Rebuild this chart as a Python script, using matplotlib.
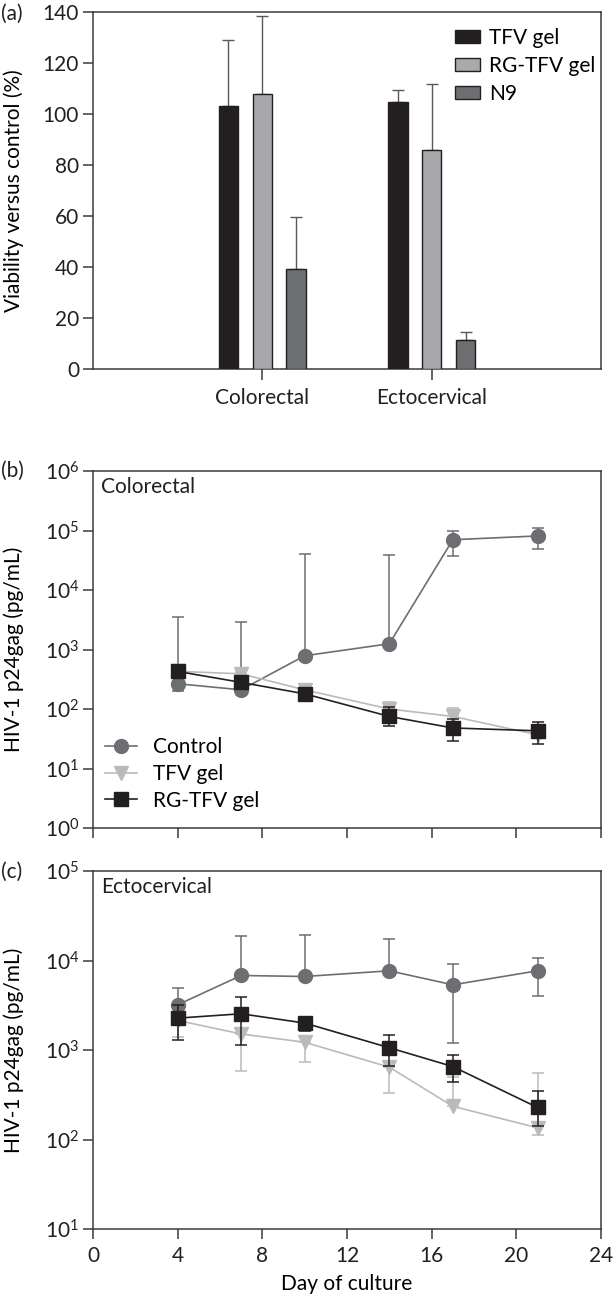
import matplotlib
matplotlib.use("Agg")
import matplotlib.pyplot as plt
import numpy as np
from matplotlib.ticker import LogLocator, NullLocator

plt.rcParams['font.family'] = ['Lato', 'DejaVu Sans']
plt.rcParams['mathtext.default'] = 'regular'
plt.rcParams['font.size'] = 15

# ---------------- data ----------------
# Panel (a)
tissues = ["Colorectal", "Ectocervical"]
bar_series = ["TFV gel", "RG-TFV gel", "N9"]
viab_tfv = [103.3, 104.7]
viab_tfv_top = [128.9, 109.3]
viab_rg = [108.0, 85.8]
viab_rg_top = [138.4, 111.7]
viab_n9 = [39.4, 11.5]
viab_n9_top = [59.8, 14.4]

# Panels (b) and (c)
days = [4, 7, 10, 14, 17, 21]
line_series = ["Control", "TFV gel", "RG-TFV gel"]

b_control = [266, 210, 785, 1250, 70000, 81000]
b_control_hi = [3460, 2850, 41000, 39000, 100000, 111000]
b_control_lo = [198, 210, 785, 1250, 37000, 48000]
b_tfv = [430, 390, 210, 100, 75, 37]
b_tfv_hi = [430, 420, 256, 131, 104, 40]
b_tfv_lo = [430, 390, 210, 100, 75, 33]
b_rg = [428, 280, 180, 75, 48, 43]
b_rg_hi = [428, 280, 180, 106, 68, 60]
b_rg_lo = [428, 280, 180, 52, 28.6, 26]

c_control = [3200, 6800, 6630, 7670, 5350, 7670]
c_control_hi = [4910, 18600, 19050, 17500, 9100, 10540]
c_control_lo = [3200, 6800, 6630, 7670, 1190, 4060]
c_tfv = [2140, 1510, 1220, 643, 235, 135]
c_tfv_hi = [2140, 1510, 1220, 643, 500, 555]
c_tfv_lo = [1380, 590, 737, 329, 235, 111]
c_rg = [2270, 2540, 2000, 1060, 653, 228]
c_rg_hi = [3170, 3960, 2000, 1480, 884, 352]
c_rg_lo = [1310, 1140, 1610, 660, 444, 143]

day_ticks = [0, 4, 8, 12, 16, 20, 24]

# ---------------- styles ----------------
col_black = "#231f20"
col_light = "#b8babc"
col_dark = "#6d6e71"
col_spine = "#3a3a3a"
FS = 15

W, H = 614, 1299
fig = plt.figure(figsize=(W / 100, H / 100), dpi=100)
AX_L, AX_R = 93, 601

def ax_rect(top, bottom, left=AX_L, right=AX_R):
    return [left / W, 1 - bottom / H, (right - left) / W, (bottom - top) / H]

def style_axes(ax):
    for s in ax.spines.values():
        s.set_color(col_spine)
        s.set_linewidth(1.1)
    ax.tick_params(direction='out', length=7, width=1.1, color=col_spine,
                   labelsize=FS, labelcolor='#231f20', pad=3)

YLAB_X = (24 - AX_L) / (AX_R - AX_L)

# ---------------- panel (a) ----------------
axa = fig.add_axes(ax_rect(12, 369))
style_axes(axa)
xpos = np.arange(1, len(tissues) + 1)
offs = 0.2
bw = 0.115
series_a = [(viab_tfv, viab_tfv_top, col_black),
            (viab_rg, viab_rg_top, "#a7a9ac"),
            (viab_n9, viab_n9_top, "#6d6e71")]
for i, (vals, tops, c) in enumerate(series_a):
    xs = xpos + (i - 1) * offs
    vals = np.array(vals)
    up = np.array(tops) - vals
    axa.bar(xs, vals, width=bw, color=c, edgecolor=col_black, linewidth=1.0,
            label=bar_series[i], zorder=3)
    axa.errorbar(xs, vals, yerr=[np.zeros_like(vals), up], fmt='none',
                 ecolor="#58595b", elinewidth=1.0, capsize=4,
                 capthick=1.0, zorder=2)
axa.set_xlim(0, 3)
axa.set_ylim(0, 140)
axa.set_yticks(np.arange(0, 141, 20))
axa.set_xticks(xpos)
axa.set_xticklabels(tissues)
axa.tick_params(axis='x', length=8, pad=6)
axa.set_ylabel("Viability versus control (%)")
axa.yaxis.set_label_coords(YLAB_X, 0.5)
axa.legend(loc='upper left', frameon=False, handlelength=1.2, handleheight=0.55,
           handletextpad=0.45, labelspacing=0.38, fontsize=FS,
           bbox_to_anchor=((455 - AX_L) / (AX_R - AX_L), 0.955),
           borderaxespad=0, borderpad=0)

# ---------------- panels (b), (c) ----------------
def draw_lines(ax, ctrl, ctrl_hi, ctrl_lo, tfv, tfv_hi, tfv_lo, rg, rg_hi, rg_lo):
    specs = [
        (ctrl, ctrl_hi, ctrl_lo, col_dark, 'o', 10, line_series[0], 3),
        (tfv, tfv_hi, tfv_lo, col_light, 'v', 10, line_series[1], 4),
        (rg, rg_hi, rg_lo, col_black, 's', 9.5, line_series[2], 5),
    ]
    for vals, hi, lo, c, m, ms, lab, z in specs:
        v = np.array(vals, float)
        yerr = [v - np.array(lo, float), np.array(hi, float) - v]
        ax.errorbar(days, v, yerr=yerr, fmt='none', ecolor=c, elinewidth=1.1,
                    capsize=4.5, capthick=1.1, zorder=z - 0.5)
        ax.plot(days, v, color=c, lw=1.2, marker=m, ms=ms, mfc=c, mec=c,
                label=lab, zorder=z)

def style_log(ax, lo, hi):
    ax.set_yscale('log')
    ax.set_ylim(lo, hi)
    ax.yaxis.set_major_locator(LogLocator(base=10, numticks=20))
    ax.yaxis.set_minor_locator(NullLocator())
    ax.set_xlim(0, 24)
    ax.set_xticks(day_ticks)
    ax.set_ylabel("HIV-1 p24gag (pg/mL)")
    ax.yaxis.set_label_coords(YLAB_X, 0.5)

axb = fig.add_axes(ax_rect(471, 828))
style_axes(axb)
draw_lines(axb, b_control, b_control_hi, b_control_lo, b_tfv, b_tfv_hi, b_tfv_lo,
           b_rg, b_rg_hi, b_rg_lo)
style_log(axb, 1, 1e6)
axb.tick_params(axis='x', labelbottom=False)
axb.text(0.016, 0.983, "Colorectal", transform=axb.transAxes, ha='left', va='top',
         fontsize=FS, color='#231f20')
axb.legend(loc='upper left', frameon=False,
           bbox_to_anchor=((105 - AX_L) / (AX_R - AX_L), 0.255),
           handlelength=1.55, handletextpad=0.75, labelspacing=0.33, fontsize=FS,
           borderaxespad=0, borderpad=0)

axc = fig.add_axes(ax_rect(871, 1229))
style_axes(axc)
draw_lines(axc, c_control, c_control_hi, c_control_lo, c_tfv, c_tfv_hi, c_tfv_lo,
           c_rg, c_rg_hi, c_rg_lo)
style_log(axc, 10, 1e5)
axc.tick_params(axis='x', pad=5)
axc.text(0.016, 0.983, "Ectocervical", transform=axc.transAxes, ha='left', va='top',
         fontsize=FS, color='#231f20')
axc.set_xlabel("Day of culture", labelpad=6)

# panel letters
for lab, ypx in [("(a)", 14), ("(b)", 471), ("(c)", 872)]:
    fig.text(0.5 / W, 1 - ypx / H, lab, ha='left', va='center', fontsize=FS,
             color='#231f20')

fig.savefig("out.png", dpi=100)
